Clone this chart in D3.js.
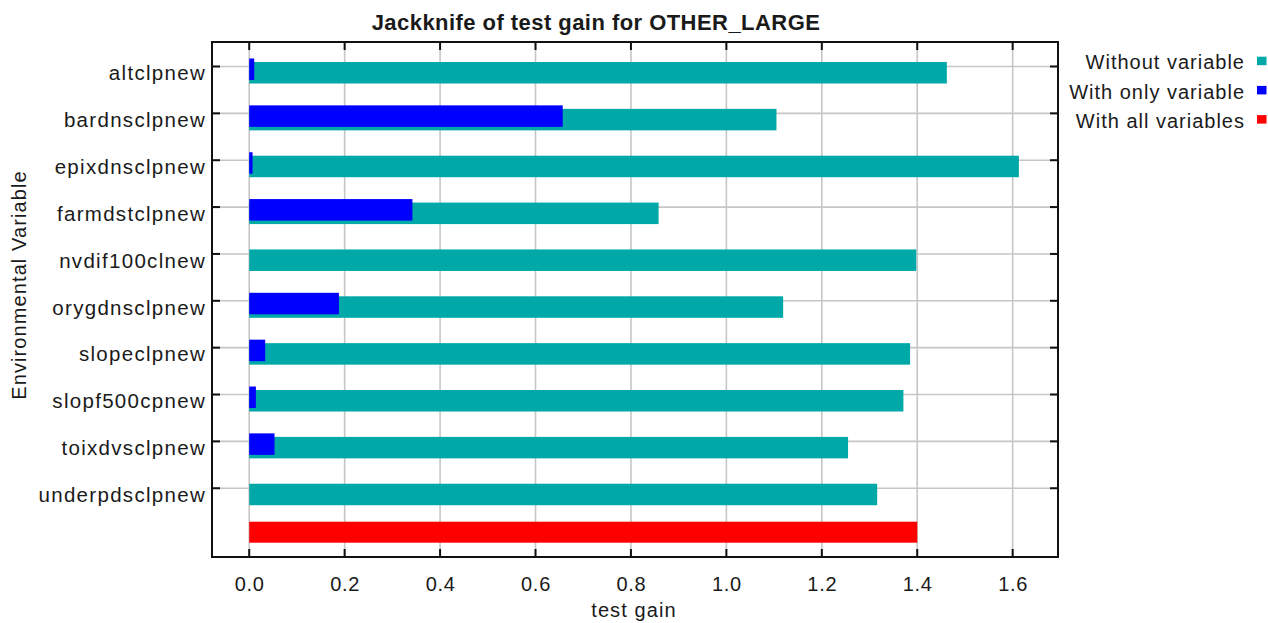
<!DOCTYPE html>
<html>
<head>
<meta charset="utf-8">
<script src="https://cdn.jsdelivr.net/npm/d3@7"></script>
<style>
  html, body { margin: 0; padding: 0; background: #ffffff; }
  svg text { font-family: "Liberation Sans", Arial, sans-serif; fill: #1a1a1a; }
</style>
</head>
<body>
<svg id="chart" width="1268" height="623"></svg>
<script>
// Jackknife of test gain, one row per environmental variable
const variables = [
  "altclpnew", "bardnsclpnew", "epixdnsclpnew", "farmdstclpnew", "nvdif100clnew",
  "orygdnsclpnew", "slopeclpnew", "slopf500cpnew", "toixdvsclpnew", "underpdsclpnew"
];
const withoutVariable = [1.462, 1.105, 1.613, 0.858, 1.398, 1.119, 1.385, 1.371, 1.255, 1.316];
const withOnlyVariable = [0.0105, 0.657, 0.007, 0.342, 0.0, 0.188, 0.0335, 0.014, 0.053, 0.0];
const withAllVariables = 1.400;
const xTicks = [0.0, 0.2, 0.4, 0.6, 0.8, 1.0, 1.2, 1.4, 1.6];
const xDomain = [-0.078, 1.695];
const legendLabels = ["Without variable", "With only variable", "With all variables"];
const colors = ["#00a8a8", "#0000ff", "#ff0000"];

const svg = d3.select("#chart");
const plot = { left: 212, right: 1058, top: 42, bottom: 557 };

const rows = variables.concat([""]);
const x = d3.scaleLinear().domain(xDomain).range([plot.left, plot.right]);
const y = d3.scalePoint().domain(rows).range([66.5, 535.1]);

const barH = 21.5;
// vertical placement of each series' bar relative to its row line
const offsets = { without: -4.5, only: -8, all: -13.4 };

// grid
const grid = svg.append("g").attr("stroke", "#c6c6c6").attr("stroke-width", 1.6);
grid.selectAll("line.v").data(xTicks).join("line")
  .attr("x1", d => x(d)).attr("x2", d => x(d))
  .attr("y1", plot.top).attr("y2", plot.bottom);
grid.selectAll("line.h").data(variables).join("line")
  .attr("x1", plot.left).attr("x2", plot.right)
  .attr("y1", d => y(d)).attr("y2", d => y(d));

// bars
svg.append("g").selectAll("rect").data(variables).join("rect")
  .attr("x", x(0)).attr("y", d => y(d) + offsets.without)
  .attr("width", (d, i) => x(withoutVariable[i]) - x(0))
  .attr("height", barH).attr("fill", colors[0]);
svg.append("g").selectAll("rect").data(variables).join("rect")
  .attr("x", x(0)).attr("y", d => y(d) + offsets.only)
  .attr("width", (d, i) => x(withOnlyVariable[i]) - x(0))
  .attr("height", barH).attr("fill", colors[1]);
svg.append("rect")
  .attr("x", x(0)).attr("y", y("") + offsets.all)
  .attr("width", x(withAllVariables) - x(0))
  .attr("height", barH - 0.5).attr("fill", colors[2]);

// ticks on all four sides, pointing inward
const tickLen = 8;
const ticks = svg.append("g").attr("stroke", "#111").attr("stroke-width", 2);
ticks.selectAll("line.b").data(xTicks).join("line")
  .attr("x1", d => x(d)).attr("x2", d => x(d))
  .attr("y1", plot.bottom).attr("y2", plot.bottom - tickLen);
ticks.selectAll("line.t").data(xTicks).join("line")
  .attr("x1", d => x(d)).attr("x2", d => x(d))
  .attr("y1", plot.top).attr("y2", plot.top + tickLen);
ticks.selectAll("line.l").data(variables).join("line")
  .attr("x1", plot.left).attr("x2", plot.left + tickLen)
  .attr("y1", d => y(d)).attr("y2", d => y(d));
ticks.selectAll("line.r").data(variables).join("line")
  .attr("x1", plot.right - tickLen).attr("x2", plot.right)
  .attr("y1", d => y(d)).attr("y2", d => y(d));

// frame
svg.append("rect")
  .attr("x", plot.left).attr("y", plot.top)
  .attr("width", plot.right - plot.left).attr("height", plot.bottom - plot.top)
  .attr("fill", "none").attr("stroke", "#111").attr("stroke-width", 2);

// x tick labels
svg.append("g").selectAll("text").data(xTicks).join("text")
  .attr("x", d => x(d) + 0.5).attr("y", 591)
  .attr("text-anchor", "middle").attr("font-size", 20)
  .attr("letter-spacing", 0.7)
  .text(d3.format(".1f"));

// y category labels
svg.append("g").selectAll("text").data(variables).join("text")
  .attr("x", 206).attr("y", d => y(d) + 13.8)
  .attr("text-anchor", "end").attr("font-size", 20.5)
  .attr("letter-spacing", 1.3)
  .text(d => d);

// titles
svg.append("text")
  .attr("x", 596).attr("y", 30)
  .attr("text-anchor", "middle").attr("font-size", 22).attr("font-weight", "bold")
  .attr("letter-spacing", 0.45)
  .text("Jackknife of test gain for OTHER_LARGE");
svg.append("text")
  .attr("x", 634).attr("y", 616.5)
  .attr("text-anchor", "middle").attr("font-size", 20)
  .attr("letter-spacing", 1.1)
  .text("test gain");
svg.append("text")
  .attr("transform", "translate(26,285) rotate(-90)")
  .attr("text-anchor", "middle").attr("font-size", 20)
  .attr("letter-spacing", 1.1)
  .text("Environmental Variable");

// legend
const legend = svg.append("g").selectAll("g").data(legendLabels).join("g")
  .attr("transform", (d, i) => `translate(0,${61 + i * 29.2})`);
legend.append("text")
  .attr("x", 1245).attr("y", 8.3)
  .attr("text-anchor", "end").attr("font-size", 20)
  .attr("letter-spacing", 1.0)
  .text(d => d);
legend.append("rect")
  .attr("x", 1257).attr("y", -4.3).attr("width", 9.5).attr("height", 8.5)
  .attr("fill", (d, i) => colors[i]);
</script>
</body>
</html>
